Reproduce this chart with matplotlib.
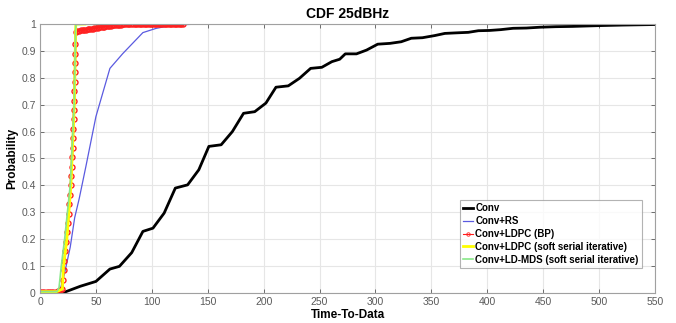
import matplotlib
matplotlib.use('Agg')
import matplotlib.pyplot as plt

plt.rcParams['font.family'] = ['Liberation Sans', 'DejaVu Sans']

# Conv
conv_x = [0, 15, 20, 36, 50, 62.5, 71, 82, 92, 101, 111, 121, 132, 142, 151, 162, 172, 182, 192,
          202, 211, 222, 232, 242, 252, 261, 268, 273, 283, 292, 302, 313, 323, 332, 342, 353,
          362, 372, 383, 392, 402, 412, 423, 435, 447, 461, 476, 500, 521, 550]
conv_y = [0, 0, 0, 0.025, 0.043, 0.089, 0.099, 0.15, 0.229, 0.241, 0.297, 0.39, 0.402, 0.458,
          0.545, 0.551, 0.6, 0.668, 0.674, 0.706, 0.765, 0.77, 0.798, 0.835, 0.839, 0.86, 0.869,
          0.889, 0.889, 0.903, 0.925, 0.928, 0.934, 0.947, 0.949, 0.957, 0.965, 0.967, 0.969,
          0.975, 0.976, 0.979, 0.984, 0.985, 0.988, 0.99, 0.991, 0.994, 0.996, 0.998]

# Conv+RS
rs_x = [0, 15, 18, 22, 27, 31, 35, 41, 50, 62.5, 74, 92, 104, 119, 143, 200, 290]
rs_y = [0.005, 0.005, 0.012, 0.074, 0.17, 0.28, 0.35, 0.47, 0.656, 0.835, 0.89, 0.968, 0.984,
        0.996, 1.0, 1.0, 1.0]

# Conv+LDPC (BP)
bp_x = [0, 2, 4, 6, 8, 10, 12, 14, 16, 18,
        20, 20.5, 21, 21.8, 22.7, 23.6, 24.3, 25, 25.6, 26.2, 26.8, 27.4, 27.9, 28.3, 28.7,
        29.1, 29.4, 29.7, 30, 30.3, 30.6, 30.8, 31, 31.2, 31.4, 31.5, 31.6, 31.8,
        33.5, 35, 36.5, 38, 39.5, 41, 42.5, 44, 45.5, 47, 48.5, 50,
        51.5, 53, 54.5, 56, 57.5, 59, 60.5, 62, 63.5, 65, 66.5, 68,
        69.5, 71, 72.5, 74, 75.5, 77,
        78.5, 80, 81.5, 83, 84.5, 86, 87.5, 89, 90.5, 92, 93.5, 95, 96.5, 98, 99.5, 101, 102.5,
        104, 105.5, 107, 108.5, 110, 111.5, 113, 114.5, 116, 117.5, 119, 120.5, 122, 123.5,
        125, 126.5, 128]
bp_y = [0.005, 0.005, 0.005, 0.005, 0.005, 0.005, 0.005, 0.005, 0.008, 0.011,
        0.015, 0.05, 0.085, 0.12, 0.155, 0.19, 0.225, 0.26, 0.295, 0.33, 0.365, 0.4, 0.435,
        0.47, 0.505, 0.54, 0.575, 0.61, 0.645, 0.68, 0.715, 0.75, 0.785, 0.82, 0.855, 0.89,
        0.925, 0.97,
        0.973, 0.975, 0.976, 0.977, 0.978, 0.979, 0.98, 0.981, 0.982, 0.983, 0.984, 0.985,
        0.986, 0.987, 0.988, 0.989, 0.99, 0.991, 0.992, 0.993, 0.994, 0.995, 0.996, 0.997,
        0.997, 0.998, 0.998, 0.999, 0.999, 0.999,
        1.0, 1.0, 1.0, 1.0, 1.0, 1.0, 1.0, 1.0, 1.0, 1.0, 1.0, 1.0, 1.0, 1.0, 1.0, 1.0, 1.0,
        1.0, 1.0, 1.0, 1.0, 1.0, 1.0, 1.0, 1.0, 1.0, 1.0, 1.0, 1.0, 1.0, 1.0, 1.0, 1.0, 1.0]

# Conv+LDPC (soft serial iterative)
ssi_x = [0, 15, 20, 21, 24, 27.6, 30.7, 31.8, 32, 40]
ssi_y = [0.005, 0.005, 0.015, 0.1, 0.2, 0.4, 0.7, 0.97, 1.0, 1.0]

# Conv+LD-MDS (soft serial iterative)
mds_x = [0, 15, 17, 19, 22, 27, 30.5, 31.8, 32, 40, 50, 65, 80]
mds_y = [0.005, 0.005, 0.02, 0.1, 0.2, 0.4, 0.7, 0.97, 0.998, 0.999, 0.999, 1.0, 1.0]

x_ticks = list(range(0, 551, 50))
y_ticks = [i / 10 for i in range(11)]
y_labels = ['0', '0.1', '0.2', '0.3', '0.4', '0.5', '0.6', '0.7', '0.8', '0.9', '1']

fig = plt.figure(figsize=(6.76, 3.23), dpi=100)
ax = fig.add_axes([0.0592, 0.0929, 0.9098, 0.8328])

ax.plot(conv_x, conv_y, color='black', lw=2, label='Conv')
ax.plot(rs_x, rs_y, color='#5a5ae0', lw=0.9, label='Conv+RS')
ax.plot(bp_x, bp_y, color='#ff1a1a', lw=1.5, marker='o', ms=3.6, mfc='none',
        mec='#ff2020', mew=1.0, label='Conv+LDPC (BP)')
ax.plot(ssi_x, ssi_y, color='#ffff00', lw=2, label='Conv+LDPC (soft serial iterative)')
ax.plot(mds_x, mds_y, color='#88e888', lw=1.2, label='Conv+LD-MDS (soft serial iterative)')

ax.set_xlim(0, 550)
ax.set_ylim(0, 1)
ax.set_xticks(x_ticks)
ax.set_yticks(y_ticks)
ax.set_yticklabels(y_labels)
ax.grid(True, color='#e6e6e6', lw=0.8)
ax.set_axisbelow(True)
ax.tick_params(direction='in', top=True, right=True, labelsize=7.5, colors='#5a5a5a',
               length=3, width=0.6, pad=3)
for s in ax.spines.values():
    s.set_color('#a0a0a0')
    s.set_linewidth(0.8)

ax.set_title('CDF 25dBHz', fontsize=10, fontweight='bold', pad=4)
ax.set_xlabel('Time-To-Data', fontsize=8.5, fontweight='bold', labelpad=1)
ax.set_ylabel('Probability', fontsize=8.5, fontweight='bold', labelpad=2)

leg = ax.legend(loc='lower right', bbox_to_anchor=(0.978, 0.094),
                prop={'weight': 'bold', 'size': 7}, frameon=True, fancybox=False,
                handlelength=1.1, handletextpad=0.2, labelspacing=0.3, borderpad=0.3,
                borderaxespad=0)
leg.get_frame().set_edgecolor('#a0a0a0')
leg.get_frame().set_linewidth(0.8)
leg.legend_handles[2].set_markersize(2.5)
leg.legend_handles[2].set_markeredgewidth(0.6)
leg.legend_handles[2].set_linewidth(0.8)

fig.savefig('out.png', dpi=100)
